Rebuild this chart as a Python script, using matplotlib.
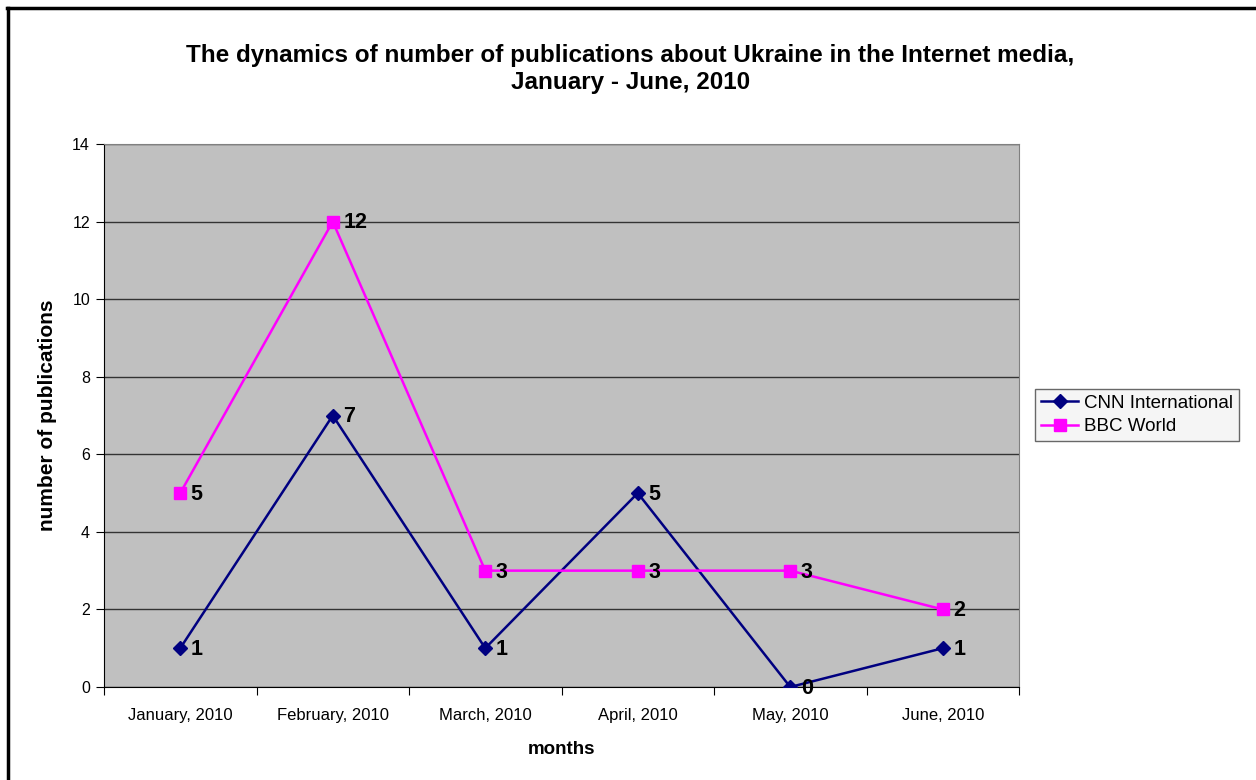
import matplotlib
matplotlib.use("Agg")
import matplotlib.pyplot as plt
from matplotlib.lines import Line2D

plt.rcParams['font.family'] = ['Liberation Sans', 'DejaVu Sans']

months = ["January, 2010", "February, 2010", "March, 2010",
          "April, 2010", "May, 2010", "June, 2010"]
cnn = [1, 7, 1, 5, 0, 1]
bbc = [5, 12, 3, 3, 3, 2]

fig = plt.figure(figsize=(12.56, 7.8), dpi=100)
ax = fig.add_axes([104/1256, 1-687/780, 915/1256, 543/780])
ax.set_facecolor("#C0C0C0")

x = list(range(len(months)))
ax.plot(x, cnn, color="#000080", lw=1.8, marker="D", ms=7, label="CNN International", zorder=3)
ax.plot(x, bbc, color="#FF00FF", lw=1.8, marker="s", ms=8.5, label="BBC World", zorder=3)

for xi, v in zip(x, cnn):
    ax.annotate(str(v), (xi, v), xytext=(7.5, -1), textcoords="offset points",
                va="center", ha="left", fontsize=15.5, fontweight="bold", zorder=4)
for xi, v in zip(x, bbc):
    ax.annotate(str(v), (xi, v), xytext=(7.5, -1), textcoords="offset points",
                va="center", ha="left", fontsize=15.5, fontweight="bold", zorder=4)

ax.set_xlim(-0.5, 5.5)
ax.set_ylim(0, 14)
ax.set_yticks(range(0, 15, 2))
ax.set_xticks([i - 0.5 for i in range(7)])
ax.set_xticklabels([])
ax.set_xticks(x, minor=True)
ax.set_xticklabels(months, minor=True)
ax.tick_params(axis="x", which="minor", length=0, pad=15, labelsize=12)
ax.tick_params(axis="x", which="major", length=6, color="black")
ax.tick_params(axis="y", length=6, labelsize=11.5, pad=4)
ax.yaxis.grid(True, color="#333333", lw=1)
ax.set_axisbelow(True)
for s in ["top", "right"]:
    ax.spines[s].set_color("#808080")
for s in ["left", "bottom"]:
    ax.spines[s].set_color("black")

ax.set_xlabel("months", fontsize=13.5, fontweight="bold", va="center")
ax.set_ylabel("number of publications", fontsize=15, fontweight="bold", va="center")
ax.xaxis.set_label_coords(0.5, (687 - 750) / 543)
ax.yaxis.set_label_coords((48 - 104) / 915, 0.5)

fig.text(0.502, 1-69/780,
         "The dynamics of number of publications about Ukraine in the Internet media,\nJanuary - June, 2010",
         ha="center", va="center", fontsize=17.5, fontweight="bold", linespacing=1.25)

leg = fig.legend(handles=[Line2D([], [], color="#000080", lw=1.8, marker="D", ms=7),
                          Line2D([], [], color="#FF00FF", lw=1.8, marker="s", ms=8.5)],
                 labels=["CNN International", "BBC World"],
                 loc="center", bbox_to_anchor=(1137/1256, 1-415/780),
                 fontsize=13.5, frameon=True, fancybox=False, handlelength=2.0,
                 handletextpad=0.3, borderpad=0.3, labelspacing=0.35)
leg.get_frame().set_facecolor("#F3F3F3")
leg.get_frame().set_edgecolor("#444444")

# outer frame (only left and top visible in the crop)
fig.add_artist(Line2D([8/1256, 8/1256], [0, 1-8/780], color="black", lw=2.5))
fig.add_artist(Line2D([7/1256, 1], [1-8/780, 1-8/780], color="black", lw=2.5))

fig.savefig("out.png", dpi=100)
